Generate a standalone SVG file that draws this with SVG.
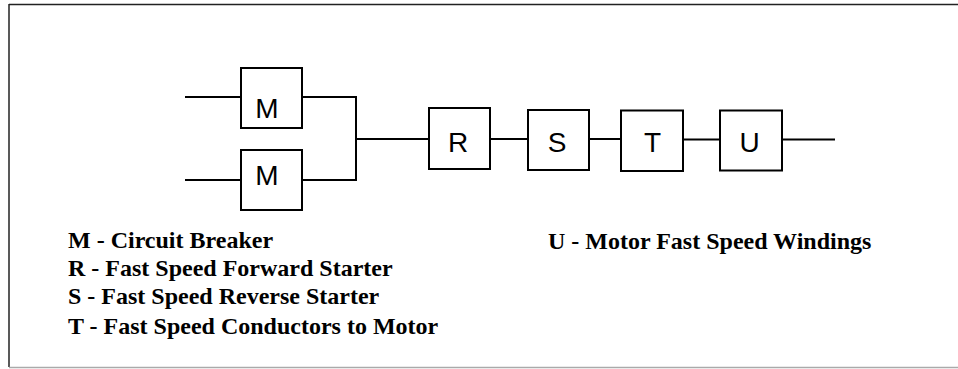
<svg xmlns="http://www.w3.org/2000/svg" width="958" height="369" viewBox="0 0 958 369">
<style>
.box{fill:#fff;stroke:#000;stroke-width:2}
.wire{fill:none;stroke:#000;stroke-width:2}
.lbl{font-family:"Liberation Sans",Arial,sans-serif;font-size:28px;fill:#000;text-anchor:middle}
.leg{font-family:"Liberation Serif","Times New Roman",serif;font-size:24px;font-weight:bold;fill:#000}
</style>
<rect width="958" height="369" fill="#fff"/>
<g id="frame">
<line x1="9" y1="4.5" x2="958" y2="4.5" stroke="#222" stroke-width="1.5"/>
<line x1="9" y1="4" x2="9" y2="367" stroke="#222" stroke-width="1.5"/>
<line x1="9" y1="367.5" x2="958" y2="367.5" stroke="#aaa" stroke-width="1.5"/>
</g>
<g id="connectors">
<path class="wire" d="M185 97H240"/>
<path class="wire" d="M185 180H240"/>
<path class="wire" d="M302 97H356V180H302"/>
<path class="wire" d="M356 139H429"/>
<path class="wire" d="M490 139H528"/>
<path class="wire" d="M589 139H621"/>
<path class="wire" d="M683 139.5H720"/>
<path class="wire" d="M782 139.5H835"/>
</g>
<g id="m1"><rect class="box" x="241" y="68" width="61" height="60"/><text class="lbl" x="267" y="118">M</text></g>
<g id="m2"><rect class="box" x="241" y="150" width="61" height="60"/><text class="lbl" x="267" y="185">M</text></g>
<g id="r"><rect class="box" x="429" y="108" width="61" height="61"/><text class="lbl" x="458" y="152">R</text></g>
<g id="s"><rect class="box" x="528" y="110" width="61" height="60"/><text class="lbl" x="557" y="152">S</text></g>
<g id="t"><rect class="box" x="621" y="110.5" width="62" height="60.5"/><text class="lbl" x="652.5" y="152">T</text></g>
<g id="u"><rect class="box" x="720" y="110.5" width="62" height="60"/><text class="lbl" x="749.5" y="152">U</text></g>
<g id="legend">
<text class="leg" x="68" y="248">M - Circuit Breaker</text>
<text class="leg" x="68" y="276">R - Fast Speed Forward Starter</text>
<text class="leg" x="68" y="304">S - Fast Speed Reverse Starter</text>
<text class="leg" x="68" y="334">T - Fast Speed Conductors to Motor</text>
<text class="leg" x="548" y="249">U - Motor Fast Speed Windings</text>
</g>
</svg>
